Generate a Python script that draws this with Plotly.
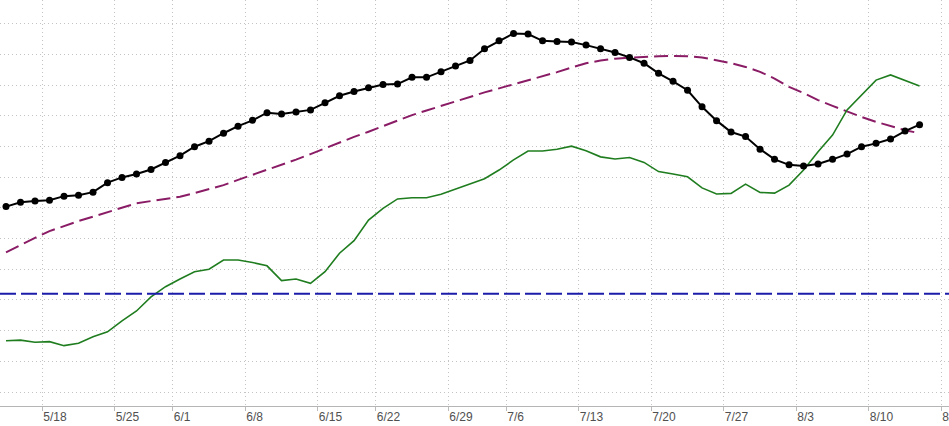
import pandas as pd
import plotly.graph_objects as go

holidays = ["2026-05-25", "2026-06-19", "2026-07-03"]
days = pd.bdate_range("2026-05-13", "2026-08-13", freq="C", holidays=holidays)

price = [60.4, 61.8, 62.2, 62.5, 63.8, 64.1, 65.1, 68.2, 69.9, 71.0,
         72.5, 74.8, 77.0, 79.9, 81.7, 84.3, 86.6, 88.5, 91.0, 90.6,
         91.2, 91.9, 94.2, 96.5, 97.9, 99.1, 100.2, 100.3, 102.5, 102.5,
         104.3, 106.2, 108.0, 111.8, 114.4, 116.8, 116.6, 114.4, 114.2, 114.0,
         113.0, 111.8, 110.6, 109.0, 107.1, 103.8, 101.2, 98.3, 92.9, 88.4,
         84.7, 83.2, 79.1, 75.8, 74.0, 73.6, 74.3, 75.8, 77.5, 79.9,
         81.0, 82.4, 85.0, 87.1]

avg_long = [45.5, 47.9, 50.2, 52.4, 54.1, 55.7, 57.1, 58.6, 60.1, 61.5,
            62.2, 62.9, 63.6, 64.8, 66.1, 67.4, 69.1, 70.7, 72.3, 73.9,
            75.7, 77.5, 79.4, 81.3, 83.1, 84.8, 86.6, 88.4, 90.2, 91.7,
            93.2, 94.6, 96.1, 97.6, 98.9, 100.2, 101.5, 102.7, 104.2, 105.7,
            107.1, 108.0, 108.6, 108.9, 109.2, 109.4, 109.5, 109.4, 109.0, 108.1,
            107.1, 105.9, 104.3, 102.1, 99.4, 97.4, 95.1, 93.2, 91.3, 89.6,
            88.0, 86.6, 85.3, 84.3]

indicator = [16.7, 16.9, 16.2, 16.4, 15.1, 15.9, 18.0, 19.6, 23.2, 26.4,
             31.0, 34.3, 36.8, 39.2, 40.0, 43.0, 43.0, 42.2, 41.1, 36.3,
             36.8, 35.4, 39.2, 45.2, 49.3, 56.0, 59.8, 62.9, 63.3, 63.3,
             64.4, 66.1, 67.8, 69.5, 72.3, 75.6, 78.5, 78.5, 79.1, 80.1,
             78.6, 76.6, 75.9, 76.4, 74.8, 71.8, 71.0, 70.1, 66.5, 64.5,
             64.7, 67.7, 65.0, 64.8, 67.4, 72.3, 78.3, 83.7, 91.9, 96.7,
             101.6, 103.3, 101.6, 99.7]

level = 32

# weekly ticks; the 5/25 holiday tick sits on the next session
tick_vals = ["2026-05-18", "2026-05-26", "2026-06-01", "2026-06-08", "2026-06-15",
             "2026-06-22", "2026-06-29", "2026-07-06", "2026-07-13", "2026-07-20",
             "2026-07-27", "2026-08-03", "2026-08-10", "2026-08-17"]
tick_text = ["5/18", "5/25", "6/1", "6/8", "6/15", "6/22", "6/29", "7/6",
             "7/13", "7/20", "7/27", "8/3", "8/10", "8/17"]

# sessions drawn at midday so the week gridlines fall between points
x = days + pd.Timedelta(hours=12)

fig = go.Figure()
fig.add_hline(y=level, line=dict(color="#1c1caa", width=2, dash="16px,5px"))
fig.add_trace(go.Scatter(x=x, y=avg_long, mode="lines",
                         line=dict(color="#8a1c66", width=2, dash="14px,6px")))
fig.add_trace(go.Scatter(x=x, y=indicator, mode="lines",
                         line=dict(color="#1f7d1f", width=1.6)))
fig.add_trace(go.Scatter(x=x, y=price, mode="lines+markers",
                         line=dict(color="#000000", width=2),
                         marker=dict(color="#000000", size=7)))

fig.update_layout(
    width=949, height=426,
    margin=dict(l=0, r=0, t=0, b=20, autoexpand=False),
    plot_bgcolor="white", paper_bgcolor="white",
    showlegend=False,
    font=dict(family="Liberation Sans, Arial, sans-serif", size=12, color="#505050"),
)
fig.update_xaxes(
    type="date", automargin=False,
    range=["2026-05-13 02:04", "2026-08-17 12:43"],
    rangebreaks=[dict(bounds=["sat", "mon"]), dict(values=holidays)],
    tickmode="array", tickvals=tick_vals, ticktext=tick_text,
    ticklabelposition="outside right", ticklabeloverflow="allow",
    ticks="outside", ticklen=4, tickcolor="#bbbbbb",
    showline=True, linecolor="#b5b5b5", linewidth=1,
    showgrid=True, gridcolor="#c4c4c4", griddash="1px,3px", gridwidth=1,
    zeroline=False,
)
fig.update_yaxes(
    range=[-4.56, 127.7], automargin=False,
    tick0=0, dtick=10,
    showticklabels=False,
    showgrid=True, gridcolor="#c4c4c4", griddash="1px,3px", gridwidth=1,
    zeroline=False,
)

# drop the page's default body margin so the chart fills the window
fig.write_html("out.html", config={"displayModeBar": False},
               post_script="document.body.style.margin='0';")
